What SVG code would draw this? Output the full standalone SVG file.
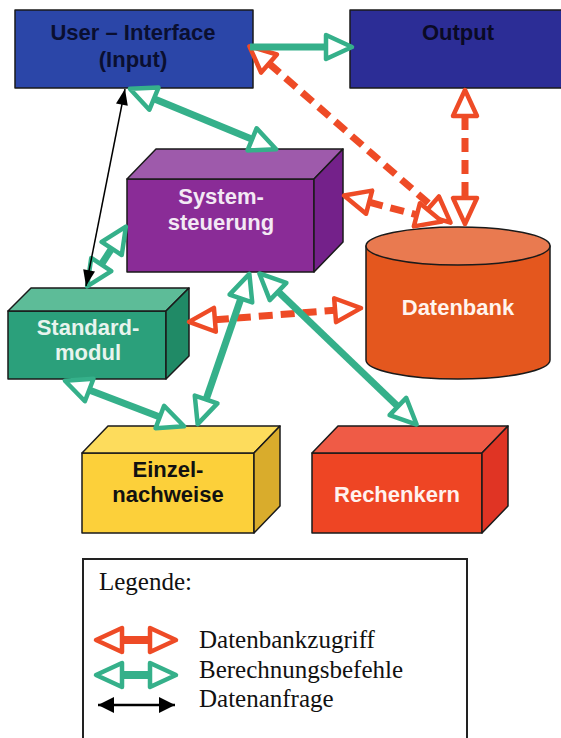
<svg xmlns="http://www.w3.org/2000/svg" width="561" height="738" viewBox="0 0 561 738">
<style>
.box{stroke:#1a1a1a;stroke-width:1.5;stroke-linejoin:round}
.lbl{font-family:"Liberation Sans",Arial,sans-serif;font-weight:bold;font-size:22px;text-anchor:middle}
.leg{font-family:"Liberation Serif","Times New Roman",serif;font-size:25px;fill:#111}
.gr{stroke:#35b08a;stroke-width:7;fill:none;marker-start:url(#hg);marker-end:url(#hg)}
.rd{stroke:#ee4b26;stroke-width:7;fill:none;stroke-dasharray:14 8;marker-start:url(#hr);marker-end:url(#hr)}
.bk{stroke:#000;stroke-width:1.5;fill:none;marker-start:url(#hb);marker-end:url(#hb)}
</style>
<defs>
<marker id="hg" viewBox="-4 -18 40 36" refX="1" refY="0" markerWidth="40" markerHeight="36" markerUnits="userSpaceOnUse" orient="auto-start-reverse">
<path d="M1,-12 L27,0 L1,12 Z" fill="#fff" stroke="#35b08a" stroke-width="4.5" stroke-linejoin="round"/>
</marker>
<marker id="hr" viewBox="-4 -18 40 36" refX="1" refY="0" markerWidth="40" markerHeight="36" markerUnits="userSpaceOnUse" orient="auto-start-reverse">
<path d="M1,-12 L27,0 L1,12 Z" fill="#fff" stroke="#ee4b26" stroke-width="4.5" stroke-linejoin="round"/>
</marker>
<marker id="hb" viewBox="-2 -10 20 20" refX="16" refY="0" markerWidth="20" markerHeight="20" markerUnits="userSpaceOnUse" orient="auto-start-reverse">
<path d="M0,-6 L16,0 L0,6 Z" fill="#000"/>
</marker>
<marker id="hbl" viewBox="-2 -10 20 20" refX="16" refY="0" markerWidth="20" markerHeight="20" markerUnits="userSpaceOnUse" orient="auto-start-reverse">
<path d="M0,-8 L16,0 L0,8 Z" fill="#000"/>
</marker>
</defs>
<rect width="561" height="738" fill="#fff"/>

<g id="user-interface">
<rect class="box" x="15" y="10" width="238" height="78" fill="#2b46a8"/>
<text class="lbl" x="133" y="40" fill="#0a0f30">User – Interface</text>
<text class="lbl" x="133" y="67" fill="#0a0f30">(Input)</text>
</g>
<g id="output">
<rect class="box" x="350" y="10" width="215" height="78" fill="#2c2d96"/>
<text class="lbl" x="458" y="40" fill="#0a0a25">Output</text>
</g>
<g id="systemsteuerung">
<rect class="box" x="127" y="179" width="187" height="93" fill="#8a2c97"/>
<polygon class="box" points="127,179 156,149 343,149 314,179" fill="#9e5aab"/>
<polygon class="box" points="314,179 343,149 343,242 314,272" fill="#74218a"/>
<text class="lbl" x="221" y="204" fill="#f3e9f4">System-</text>
<text class="lbl" x="221" y="230" fill="#f3e9f4">steuerung</text>
</g>
<g id="datenbank">
<path class="box" d="M366,246 L366,360 A92,19 0 0 0 550,360 L550,246 Z" fill="#e4571e"/>
<ellipse class="box" cx="458" cy="246" rx="92" ry="19" fill="#e97a50"/>
<text class="lbl" x="458" y="315" fill="#fff4ee">Datenbank</text>
</g>
<g id="standardmodul">
<rect class="box" x="8" y="311" width="158" height="68" fill="#2ba07b"/>
<polygon class="box" points="8,311 31,288 189,288 166,311" fill="#5dbc98"/>
<polygon class="box" points="166,311 189,288 189,356 166,379" fill="#208a66"/>
<text class="lbl" x="88" y="335" fill="#e8f4ee">Standard-</text>
<text class="lbl" x="88" y="360" fill="#e8f4ee">modul</text>
</g>
<g id="einzelnachweise">
<rect class="box" x="82" y="453" width="172" height="80" fill="#fcd03a"/>
<polygon class="box" points="82,453 108,426 280,426 254,453" fill="#fddc5c"/>
<polygon class="box" points="254,453 280,426 280,506 254,533" fill="#d9ac2c"/>
<text class="lbl" x="168" y="477" fill="#111">Einzel-</text>
<text class="lbl" x="168" y="502" fill="#111">nachweise</text>
</g>
<g id="rechenkern">
<rect class="box" x="312" y="453" width="170" height="80" fill="#ee4524"/>
<polygon class="box" points="312,453 338,426 508,426 482,453" fill="#ef5b46"/>
<polygon class="box" points="482,453 508,426 508,506 482,533" fill="#e03424"/>
<text class="lbl" x="397" y="502" fill="#fff2ee">Rechenkern</text>
</g>

<g id="connectors">
<line class="rd" x1="269" y1="63.5" x2="431" y2="205.5"/>
<line class="rd" x1="465" y1="116" x2="465" y2="198"/>
<line class="rd" x1="369.1" y1="202.2" x2="416.9" y2="214.8"/>
<line class="rd" x1="214.9" y1="319.8" x2="335.1" y2="310.2"/>
<line class="gr" x1="250" y1="47" x2="326" y2="47" style="marker-start:none"/>
<line class="gr" x1="153.9" y1="98.7" x2="252.1" y2="139.3"/>
<line class="gr" x1="101.3" y1="264.5" x2="111.7" y2="248.5"/>
<line class="gr" x1="240.9" y1="298.5" x2="206.1" y2="399.5"/>
<line class="gr" x1="89.2" y1="390" x2="159.8" y2="417"/>
<line class="gr" x1="278.1" y1="291.5" x2="397.9" y2="406.5"/>
<line class="bk" x1="125" y1="89" x2="86" y2="286"/>
</g>

<g id="legend">
<rect x="83" y="559" width="384" height="200" fill="#fff" stroke="#222" stroke-width="2"/>
<text class="leg" x="99" y="590">Legende:</text>
<line x1="122" y1="640" x2="150" y2="640" stroke="#ee4b26" stroke-width="8" marker-start="url(#hr)" marker-end="url(#hr)"/>
<line x1="122" y1="675" x2="150" y2="675" stroke="#35b08a" stroke-width="8" marker-start="url(#hg)" marker-end="url(#hg)"/>
<line x1="98" y1="705" x2="175" y2="705" stroke="#000" stroke-width="2.5" marker-start="url(#hbl)" marker-end="url(#hbl)"/>
<text class="leg" x="199" y="648">Datenbankzugriff</text>
<text class="leg" x="199" y="678">Berechnungsbefehle</text>
<text class="leg" x="199" y="707">Datenanfrage</text>
</g>
</svg>
